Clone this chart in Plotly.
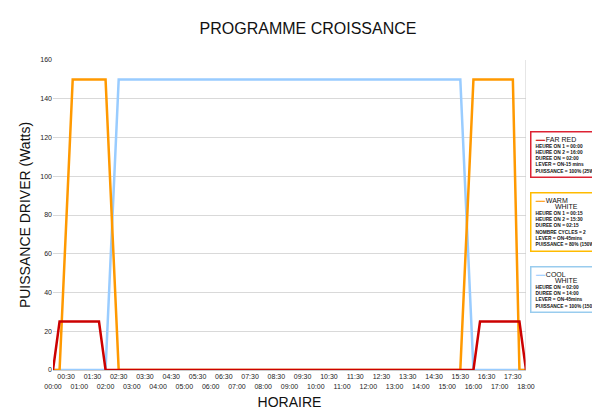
import plotly.graph_objects as go

red_x = [0, 0.25, 1.75, 2.0, 16.0, 16.25, 17.75, 18.0]
red_y = [0, 25, 25, 0, 0, 25, 25, 0]
warm_x = [0, 0.25, 0.75, 2.0, 2.5, 15.5, 16.0, 17.5, 17.75, 18.0]
warm_y = [0, 0, 150, 150, 0, 0, 150, 150, 0, 0]
cool_x = [0, 2.0, 2.5, 15.5, 16.0, 18.0]
cool_y = [0, 0, 150, 150, 0, 0]

tickvals = [i * 0.5 for i in range(37)]
ticktext = []
for v in tickvals:
    h = int(v); m = int(round((v - h) * 60))
    s = f"{h:02d}:{m:02d}"
    ticktext.append(f"{s}<br> " if m == 30 else f" <br>{s}")

fig = go.Figure()
fig.add_trace(go.Scatter(x=cool_x, y=cool_y, mode="lines", line=dict(color="#99ccff", width=2.5)))
fig.add_trace(go.Scatter(x=warm_x, y=warm_y, mode="lines", line=dict(color="#ff9900", width=2.5)))
fig.add_trace(go.Scatter(x=red_x, y=red_y, mode="lines", line=dict(color="#cc0000", width=2.5)))

fig.update_layout(
    width=600, height=418, showlegend=False,
    margin=dict(l=45, r=82, t=52, b=56),
    paper_bgcolor="white", plot_bgcolor="white",
    font=dict(family="Liberation Sans, Arial", color="#222"),
    title=dict(text="PROGRAMME CROISSANCE", x=0.5, xanchor="center", y=0.965, font=dict(size=16, color="#111")),
)
fig.update_xaxes(range=[0, 18], tickvals=tickvals, ticktext=ticktext, tickangle=0, automargin=False,
                 tickfont=dict(size=7), showgrid=False, showline=True, linecolor="#ccc",
                 mirror=False, zeroline=False,
                 title=dict(text="HORAIRE", font=dict(size=14, color="#111"), standoff=8))
fig.update_yaxes(range=[0, 160], dtick=20, tickfont=dict(size=7), gridcolor="#d9d9d9", automargin=False,
                 zeroline=False, showline=False,
                 title=dict(text="PUISSANCE DRIVER (Watts)", font=dict(size=14, color="#111"), standoff=6))
fig.add_shape(type="line", xref="x", yref="paper", x0=18, x1=18, y0=0, y1=1, line=dict(color="#ccc", width=1))

boxes = [
    ("#dd2233", "#cc0000", "FAR RED", ["HEURE ON 1 = 00:00", "HEURE ON 2 = 16:00", "DUREE ON = 02:00",
                                       "LEVER = ON-15 mins", "PUISSANCE = 100% (25W)"], 0.77),
    ("#ffbb00", "#ff9900", "WARM<br>          WHITE", ["HEURE ON 1 = 00:15", "HEURE ON 2 = 15:30", "DUREE ON = 02:15",
                                       "NOMBRE CYCLES = 2", "LEVER = ON-45mins", "PUISSANCE = 80% (150W)"], 0.575),
    ("#99ccee", "#99ccff", "COOL<br>          WHITE", ["HEURE ON = 02:00", "DUREE ON = 14:00", "LEVER = ON-45mins",
                                       "PUISSANCE = 100% (150W)"], 0.335),
]
for border, col, name, lines, yy in boxes:
    txt = f"<span style='color:{col}'><b>━━━</b></span> <span style='font-size:7px'>{name}</span><br>" + \
          "<br>".join(f"<b>{l}</b>" for l in lines)
    fig.add_annotation(xref="paper", yref="paper", x=1.008, y=yy, xanchor="left", yanchor="top",
                       text=txt, showarrow=False, align="left", font=dict(size=4.8, color="#111"),
                       bordercolor=border, borderwidth=1.5, borderpad=3, bgcolor="white", width=66)

fig.write_html("out.html")
